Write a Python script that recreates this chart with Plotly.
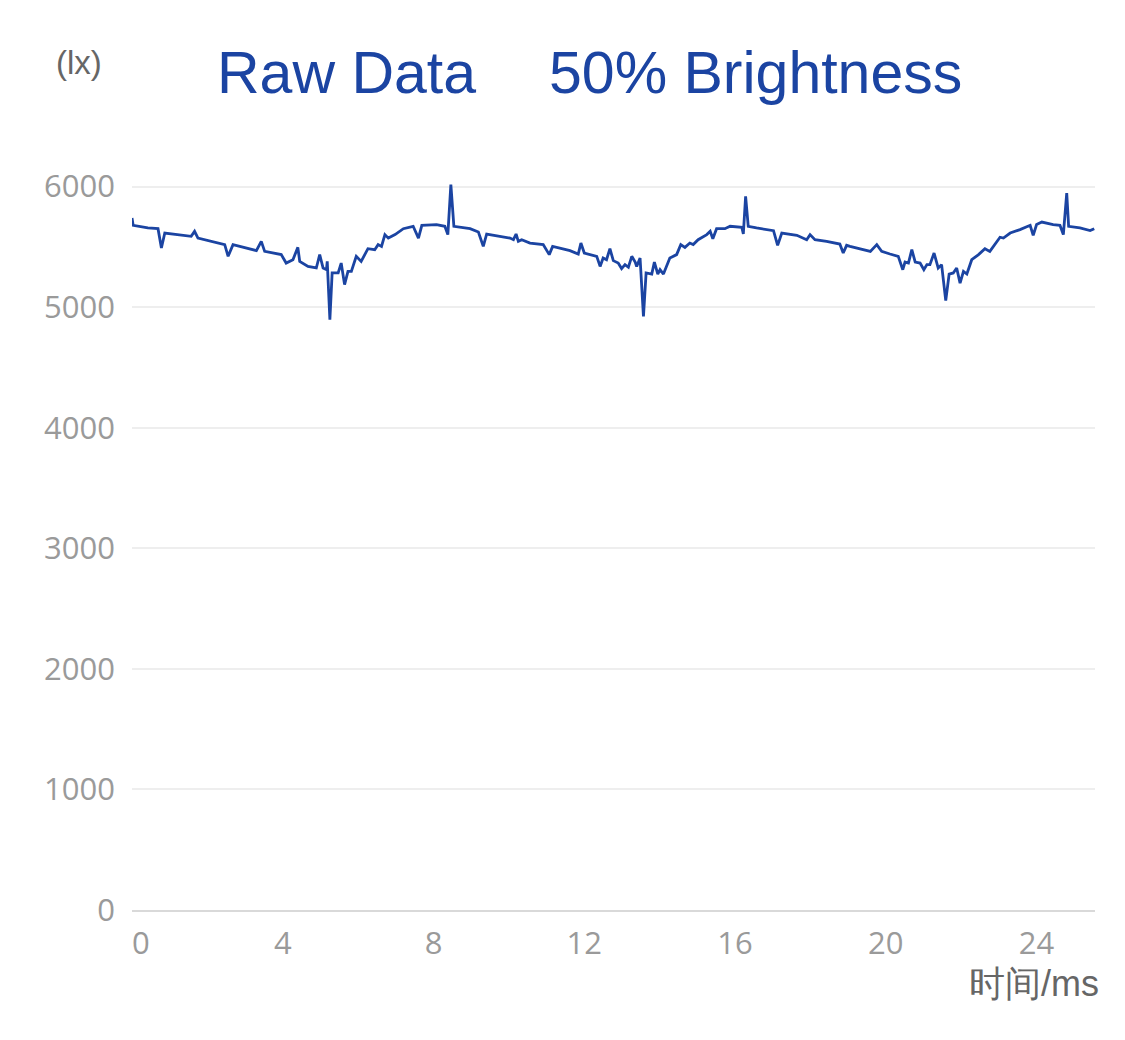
import plotly.graph_objects as go

# time (ms) and illuminance (lx)
time_ms = [
    0.00, 0.03, 0.42, 0.69, 0.78, 0.87, 1.57, 1.66, 1.75, 2.46, 2.55, 2.68,
    3.30, 3.43, 3.52, 3.96, 4.09, 4.27, 4.40, 4.45, 4.67, 4.89, 4.98, 5.07,
    5.16, 5.18, 5.25, 5.31, 5.47, 5.55, 5.64, 5.73, 5.82, 5.95, 6.08, 6.26,
    6.44, 6.53, 6.62, 6.71, 6.80, 6.98, 7.20, 7.46, 7.60, 7.69, 8.08, 8.30,
    8.38, 8.46, 8.54, 8.97, 9.19, 9.32, 9.41, 10.03, 10.12, 10.19, 10.25, 10.34,
    10.56, 10.91, 11.07, 11.16, 11.62, 11.84, 11.91, 12.00, 12.33, 12.42, 12.50, 12.59,
    12.68, 12.77, 12.90, 12.99, 13.08, 13.17, 13.26, 13.35, 13.39, 13.48, 13.57, 13.64,
    13.79, 13.86, 13.95, 14.01, 14.10, 14.27, 14.45, 14.56, 14.67, 14.80, 14.89, 15.02,
    15.25, 15.34, 15.41, 15.51, 15.73, 15.87, 16.18, 16.22, 16.28, 16.35, 16.57, 17.02,
    17.13, 17.24, 17.64, 17.90, 17.99, 18.12, 18.43, 18.78, 18.87, 18.96, 19.05, 19.30,
    19.59, 19.76, 19.89, 20.11, 20.33, 20.45, 20.51, 20.60, 20.69, 20.78, 20.91, 21.01,
    21.09, 21.17, 21.28, 21.39, 21.48, 21.59, 21.68, 21.79, 21.88, 21.97, 22.06, 22.15,
    22.28, 22.46, 22.63, 22.76, 22.90, 23.03, 23.12, 23.30, 23.56, 23.83, 23.91, 24.00,
    24.14, 24.44, 24.62, 24.71, 24.80, 24.85, 25.15, 25.42, 25.53,
]
lux = [
    5740, 5679, 5657, 5651, 5491, 5615, 5588, 5629, 5573, 5519, 5422, 5519,
    5469, 5546, 5463, 5436, 5366, 5394, 5496, 5380, 5338, 5325, 5436, 5325,
    5311, 5380, 4896, 5284, 5284, 5366, 5187, 5297, 5297, 5422, 5380, 5485,
    5477, 5519, 5504, 5602, 5573, 5602, 5651, 5671, 5573, 5679, 5685, 5671,
    5602, 6017, 5671, 5651, 5624, 5504, 5607, 5573, 5560, 5607, 5546, 5560,
    5532, 5519, 5436, 5504, 5469, 5441, 5532, 5449, 5422, 5338, 5408, 5394,
    5485, 5386, 5366, 5320, 5353, 5331, 5422, 5374, 5338, 5408, 4924, 5284,
    5275, 5374, 5275, 5311, 5275, 5408, 5436, 5519, 5496, 5532, 5519, 5560,
    5602, 5629, 5568, 5651, 5651, 5671, 5662, 5607, 5919, 5671, 5657, 5635,
    5513, 5615, 5596, 5560, 5602, 5560, 5546, 5524, 5449, 5513, 5504, 5485,
    5463, 5519, 5463, 5441, 5422, 5311, 5374, 5366, 5477, 5374, 5366, 5311,
    5353, 5353, 5449, 5325, 5353, 5054, 5275, 5284, 5325, 5200, 5297, 5275,
    5394, 5436, 5485, 5463, 5519, 5580, 5573, 5615, 5643, 5679, 5596, 5685,
    5706, 5685, 5679, 5602, 5947, 5671, 5657, 5635, 5651,
]
x_ticks = [4, 8, 12, 16, 20, 24]
y_ticks = [0, 1000, 2000, 3000, 4000, 5000, 6000]

blue = "#1b44a2"
font = "Liberation Sans, Arial, sans-serif"
tick_font = dict(family="Open Sans, sans-serif", size=31, color="#9a9a9a")

# the page puts the figure 8px in from the top-left corner
off = 8
W, H = 1125 - off, 1040 - off
pl, pr, pt, pb = 132 - off, 30, 183 - off, 130

fig = go.Figure()
fig.add_trace(go.Scatter(x=time_ms, y=lux, mode="lines",
                         line=dict(color=blue, width=2.8), hoverinfo="skip"))

fig.update_layout(
    width=W, height=H,
    margin=dict(l=pl, r=pr, t=pt, b=pb),
    paper_bgcolor="white", plot_bgcolor="white",
    showlegend=False,
    font=dict(family=font),
)
fig.update_xaxes(
    range=[0, 25.55], tickvals=x_ticks, showgrid=False, zeroline=False,
    showline=True, linecolor="#d9d9d9", linewidth=2,
    tickfont=tick_font, ticks="", ticklabelstandoff=5,
)
fig.update_yaxes(
    range=[0, 6030], tickvals=y_ticks, showgrid=True, gridcolor="#eeeeee",
    gridwidth=1.5, zeroline=False, showline=False,
    tickfont=tick_font, ticks="", ticklabelstandoff=16,
)

pw, ph = W - pl - pr, H - pt - pb


def px(xp):
    return (xp - off - pl) / pw


def py(yp):
    return (H - pb - (yp - off)) / ph


# title pieces, axis unit labels and the shifted "0" tick label
labels = [
    ("Raw Data", 346, 73, "center", dict(size=59, color=blue)),
    ("(lx)", 79, 63, "center", dict(size=33, color="#666666")),
    ("50% Brightness", 755, 73, "center", dict(size=59, color=blue)),
    ("时间/ms", 1101, 983, "right", dict(size=36, color="#666666")),
    ("0", 141, 942, "center", tick_font),
]
for text, xp, yp, align, f in labels:
    fig.add_annotation(text=text, xref="paper", yref="paper", x=px(xp), y=py(yp),
                       xanchor=align, yanchor="middle", showarrow=False, font=f)

fig.write_html("out.html")
